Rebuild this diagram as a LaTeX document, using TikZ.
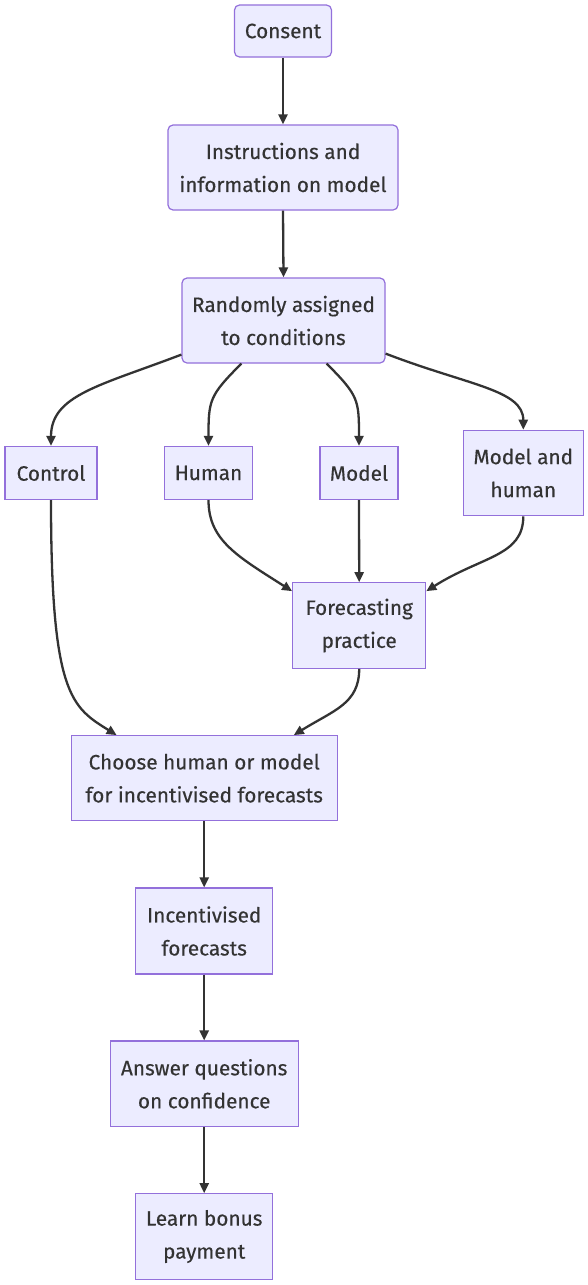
\documentclass[tikz,border=0pt]{standalone}
\usepackage{fontspec}
\setmainfont[FakeBold=0.35]{Fira Sans}
\usetikzlibrary{arrows.meta}
\definecolor{mmfill}{HTML}{ECECFF}
\definecolor{mmborder}{HTML}{9370DB}
\definecolor{mmedge}{HTML}{333333}
\definecolor{mmtext}{HTML}{333333}
\newcommand\mmfont{\fontsize{20.8}{33}\selectfont}
\tikzset{
  box/.style={draw=mmborder, fill=mmfill, line width=1.2pt, text=mmtext,
    align=center, inner sep=0pt, font=\mmfont},
  rbox/.style={box, rounded corners=5pt},
  edge/.style={draw=mmedge, line width=2.3pt, -{Triangle[length=10pt,width=9pt]}},
}
\begin{document}
\begin{tikzpicture}[x=1pt,y=-1pt]
\useasboundingbox (0,0) rectangle (587,1285);
\fill[white] (0,0) rectangle (587,1285);

\node[rbox, minimum width=97pt, minimum height=52pt] (cons) at (283,31) {Consent};
\node[rbox, minimum width=230pt, minimum height=85pt] (instr) at (283,167.5) {Instructions and\\information on model};
\node[rbox, minimum width=203pt, minimum height=85pt] (rand) at (283.5,320.5) {Randomly assigned\\to conditions};

\node[box, minimum width=92pt, minimum height=53pt] (ctrl) at (51,473) {Control};
\node[box, minimum width=88pt, minimum height=53pt] (hum) at (208.5,473) {Human};
\node[box, minimum width=78pt, minimum height=53pt] (mod) at (359,473) {Model};
\node[box, minimum width=120pt, minimum height=85.5pt] (mh) at (523.3,473) {Model and\\human};

\node[box, minimum width=133pt, minimum height=85.5pt] (fp) at (359.2,625.5) {Forecasting\\practice};
\node[box, minimum width=266pt, minimum height=85pt] (choose) at (204.2,778.2) {Choose human or model\\for incentivised forecasts};
\node[box, minimum width=137pt, minimum height=86pt] (inc) at (204.2,931) {Incentivised\\forecasts};
\node[box, minimum width=188pt, minimum height=85.5pt] (ans) at (204.2,1083.8) {Answer questions\\on confidence};
\node[box, minimum width=137pt, minimum height=85.5pt] (learn) at (204.2,1236.5) {Learn bonus\\payment};

\draw[edge] (cons.south) -- (instr.north);
\draw[edge] (instr.south) -- (rand.north);

\draw[edge] ([yshift=9pt]rand.south west) .. controls +(-81,31) and +(0,-51) .. (ctrl.north);
\draw[edge] ([xshift=60pt]rand.south west) .. controls +(-32,32) and +(0,-46) .. (hum.north);
\draw[edge] ([xshift=-59pt]rand.south east) .. controls +(32,32) and +(0,-46) .. (mod.north);
\draw[edge] ([yshift=10pt]rand.south east) .. controls +(83,32) and +(0,-40) .. (mh.north);

\draw[edge] (hum.south) .. controls +(0,40) and +(-55,-35) .. ([yshift=-9pt]fp.north west);
\draw[edge] (mod.south) -- (fp.north);
\draw[edge] (mh.south) .. controls +(0,40) and +(55,-35) .. ([yshift=-9pt]fp.north east);

\draw[edge] (ctrl.south) .. controls +(0,195) and +(-45,-28) .. ([xshift=46pt]choose.north west);
\draw[edge] (fp.south) .. controls +(0,35) and +(40,-25) .. ([xshift=-44pt]choose.north east);

\draw[edge] (choose.south) -- (inc.north);
\draw[edge] (inc.south) -- (ans.north);
\draw[edge] (ans.south) -- (learn.north);
\end{tikzpicture}
\end{document}
